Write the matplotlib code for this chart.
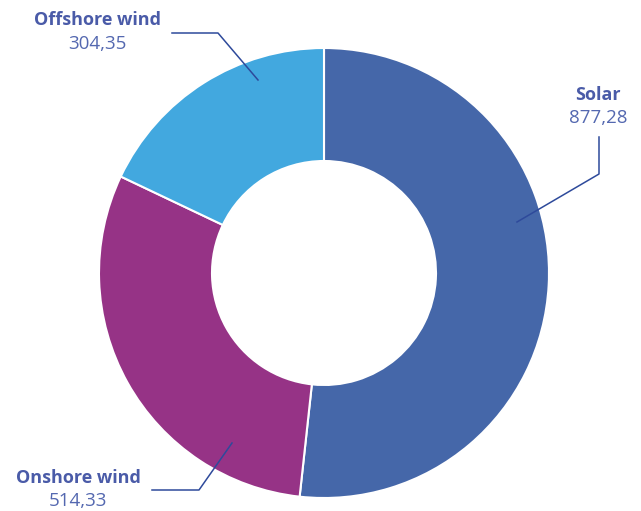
import matplotlib
matplotlib.use("Agg")
import matplotlib.pyplot as plt

# Installed capacity by technology
labels = ["Solar", "Onshore wind", "Offshore wind"]
values = [877.28, 514.33, 304.35]
value_text = ["877,28", "514,33", "304,35"]
colors = ["#4567A9", "#963386", "#42A8DF"]

W, H = 641, 511
fig = plt.figure(figsize=(W / 100, H / 100), dpi=100)
ax = fig.add_axes([0, 0, 1, 1])

def y(v):
    # image pixel row -> data y
    return H - v

ax.pie(values, colors=colors, startangle=90, counterclock=False,
       center=(324, y(273)), radius=225, frame=True,
       wedgeprops=dict(width=113, edgecolor="white", linewidth=1.5))
ax.set_xlim(0, W)
ax.set_ylim(0, H)
ax.set_aspect("equal")
ax.axis("off")

line_col = "#2E4A9B"
name_col = "#4A5BA8"
val_col = "#5468B0"

# label text position (x, name row, value row) and leader polyline
layout = {
    "Solar": ((598, 95, 118), [(599, 137), (599, 174), (517, 222)]),
    "Onshore wind": ((78, 478, 501), [(152, 490), (199, 490), (232, 443)]),
    "Offshore wind": ((97, 20, 44), [(172, 33), (218, 33), (258, 80)]),
}

for lab, txt in zip(labels, value_text):
    (tx, ny, vy), pts = layout[lab]
    ax.text(tx, y(ny), lab, ha="center", va="center", fontsize=13,
            fontweight="bold", color=name_col, family="Open Sans")
    ax.text(tx, y(vy), txt, ha="center", va="center", fontsize=13.5,
            color=val_col, family="Open Sans")
    ax.plot([p[0] for p in pts], [y(p[1]) for p in pts], color=line_col, lw=1.1)

fig.savefig("out.png", dpi=100)
